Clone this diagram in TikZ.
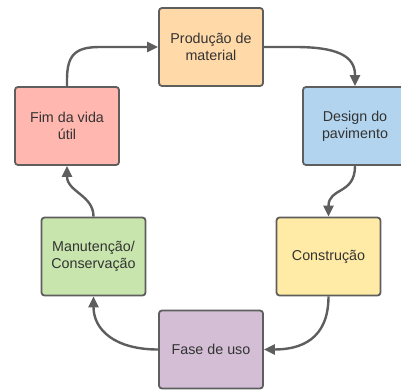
\documentclass[tikz,border=0pt]{standalone}
\usepackage{fontspec}
\setmainfont{Liberation Sans}
\usetikzlibrary{arrows.meta}
\definecolor{edgegray}{HTML}{5E5E5E}
\definecolor{txtgray}{HTML}{333333}
\definecolor{cOrange}{HTML}{FFD9A8}
\definecolor{cBlue}{HTML}{B3D4EE}
\definecolor{cRed}{HTML}{FFB7AF}
\definecolor{cGreen}{HTML}{C7E5AC}
\definecolor{cYellow}{HTML}{FFEBA5}
\definecolor{cPurple}{HTML}{D3BED5}
\tikzset{
  stagebox/.style={rectangle, rounded corners=3pt, draw=edgegray, line width=1.8pt,
    minimum width=104pt, minimum height=78pt, align=center, text=txtgray,
    font=\fontsize{14.3pt}{17pt}\selectfont, inner sep=0pt},
  flow/.style={draw=edgegray, line width=2.4pt, -{Triangle[length=11pt,width=10pt]}}
}
\begin{document}
\begin{tikzpicture}[x=1pt,y=-1pt]
\useasboundingbox (0,0) rectangle (401,390);
\node[stagebox, fill=cOrange] (prod) at (211,47) {Produção de\\material};
\node[stagebox, fill=cBlue] (design) at (355,126) {Design do\\pavimento};
\node[stagebox, fill=cYellow] (constr) at (328.5,256.5) {Construção};
\node[stagebox, fill=cPurple] (fase) at (211,349.5) {Fase de uso};
\node[stagebox, fill=cGreen] (manut) at (93.5,256.5) {Manutenção/\\Conservação};
\node[stagebox, fill=cRed] (fim) at (67,126) {Fim da vida\\útil};
\coordinate (c1) at (67,80);
\coordinate (c2) at (100,47);
\coordinate (c3) at (295,47);
\coordinate (c4) at (355,75);
\draw[flow] (fim.north) -- (c1) .. controls (67,55) and (75,47) .. (c2) -- (prod.west);
\draw[flow] (prod.east) -- (c3) .. controls (335,47) and (355,55) .. (c4) -- (design.north);
\draw[flow] (design.south) .. controls (355,195) and (328.5,187) .. (constr.north);
\draw[flow] (constr.south) .. controls (328.5,340) and (300,349.5) .. (fase.east);
\draw[flow] (fase.west) .. controls (115,349.5) and (93.5,330) .. (manut.south);
\draw[flow] (manut.north) .. controls (93.5,195) and (67,192) .. (fim.south);
\end{tikzpicture}
\end{document}
